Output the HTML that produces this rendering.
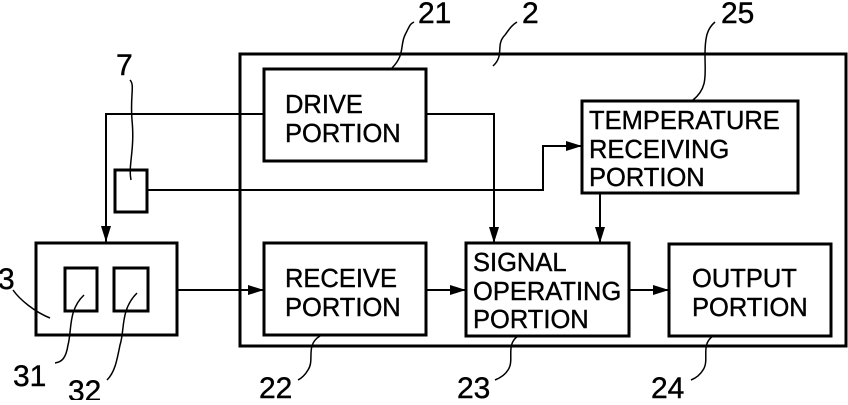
<!DOCTYPE html>
<html><head><style>
body{margin:0;background:#fff;}
svg text{font-family:"Liberation Sans",Arial,sans-serif;fill:#000;stroke:#000;stroke-width:0.4;}
</style></head><body>
<svg width="848" height="400" viewBox="0 0 848 400" xmlns="http://www.w3.org/2000/svg">
<defs>
<marker id="b" markerWidth="16" markerHeight="10" refX="16" refY="5" orient="auto" markerUnits="userSpaceOnUse"><path d="M0,0 L16,5 L0,10z" fill="#000"/></marker></defs>
<g fill="none" stroke="#000" stroke-width="3">
<rect x="240" y="54" width="606" height="292"/>
<rect x="264" y="69" width="162" height="92"/>
<rect x="582" y="101" width="216" height="92"/>
<rect x="264" y="243" width="162" height="92"/>
<rect x="466" y="243" width="163" height="93"/>
<rect x="669" y="244" width="162" height="92"/>
<rect x="36" y="243" width="141" height="92"/>
<rect x="65" y="268" width="32" height="43"/>
<rect x="114" y="268" width="34" height="43"/>
<rect x="115" y="170" width="32" height="42"/>
</g>
<g fill="none" stroke="#000" stroke-width="2">
<path d="M426 114 H494 V243" marker-end="url(#b)"/>
<path d="M264 114 H106 V242" marker-end="url(#b)"/>
<path d="M147 190 H543 V146 H582" marker-end="url(#b)"/>
<path d="M600 193 V243" marker-end="url(#b)"/>
<path d="M177 290 H264" marker-end="url(#b)"/>
<path d="M426 290 H466" marker-end="url(#b)"/>
<path d="M629 290 H669" marker-end="url(#b)"/>
</g>
<g fill="none" stroke="#000" stroke-width="1.5">
<path d="M392 68 C405 55 400 45 405 35 C410 25 410 24 414 22"/>
<path d="M493 66 C505 55 495 45 505 35 C510 28 512 25 517 22"/>
<path d="M693 100 C708 88 705 75 705 55 C705 35 708 28 715 22"/>
<path d="M131 180 C128 165 135 150 132 120 C130 95 135 85 130 80"/>
<path d="M50 318 C35 312 20 300 13 290"/>
<path d="M84 295 C68 310 72 330 68 345 C66 358 62 362 55 363"/>
<path d="M137 293 C120 310 125 330 120 345 C117 360 115 372 107 380"/>
<path d="M320 336 C305 345 315 360 308 370 C305 375 302 378 298 380"/>
<path d="M518 336 C505 345 515 360 508 370 C505 375 500 378 495 380"/>
<path d="M713 336 C700 345 710 360 703 370 C700 375 696 378 691 380"/>
</g>
<g font-size="25.5">
<text x="285" y="113">DRIVE</text><text x="285" y="142">PORTION</text>
<text x="589" y="129">TEMPERATURE</text><text x="589" y="158">RECEIVING</text><text x="589" y="186">PORTION</text>
<text x="285" y="287">RECEIVE</text><text x="285" y="316">PORTION</text>
<text x="473" y="271">SIGNAL</text><text x="473" y="300">OPERATING</text><text x="473" y="328">PORTION</text>
<text x="692" y="287">OUTPUT</text><text x="692" y="316">PORTION</text>
</g>
<g font-size="30">
<text x="418" y="23">21</text>
<text x="522" y="23">2</text>
<text x="721" y="23">25</text>
<text x="116" y="75">7</text>
<text x="-2" y="289">3</text>
<text x="13" y="386">31</text>
<text x="68" y="401">32</text>
<text x="259" y="398">22</text>
<text x="457" y="398">23</text>
<text x="651" y="398">24</text>
</g>
</svg>
</body></html>
